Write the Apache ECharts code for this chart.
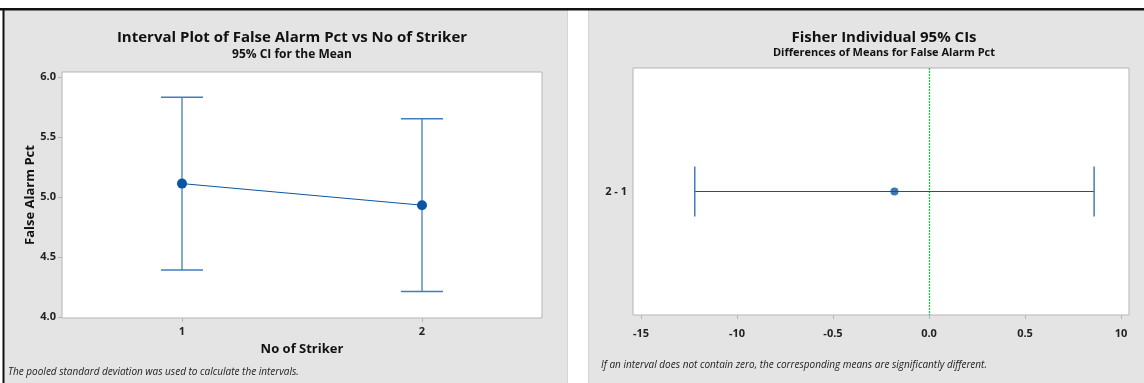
<!DOCTYPE html>
<html>
<head>
<meta charset="utf-8">
<script src="https://cdn.jsdelivr.net/npm/echarts@6/dist/echarts.min.js"></script>
<style>
  html, body { margin: 0; padding: 0; background: #fff; }
  #main { width: 1144px; height: 383px; }
</style>
</head>
<body>
<div id="main"></div>
<script>
// ---------- data ----------
var strikerLevels = [1, 2];
var meanPct = [5.11, 4.93];
var ciLow = [4.39, 4.21];
var ciHigh = [5.83, 5.65];

var diffNames = ['2 - 1'];
var diffMean = [-0.18];
var diffLow = [-1.22];
var diffHigh = [0.86];
var zeroRef = [0];

var leftYTicks = [4.0, 4.5, 5.0, 5.5, 6.0];
var rightXTicks = [-1.5, -1.0, -0.5, 0, 0.5, 1.0];
var rightXTickLabels = ['-15', '-10', '-0.5', '0.0', '0.5', '10'];

// ---------- style ----------
var blue = '#0b56a4';
var capBlue = '#3f7cc4';
var green = '#1fbf45';
var frameGray = '#b5b5b5';
var font = 'Open Sans';

var meanData = strikerLevels.map(function (x, i) { return [x, meanPct[i]]; });
var ciData = strikerLevels.map(function (x, i) { return [x, ciLow[i], ciHigh[i]]; });
var diffCiData = diffNames.map(function (n, i) { return [diffLow[i], diffHigh[i], i]; });
var diffMeanData = diffNames.map(function (n, i) { return [diffMean[i], i]; });

// 竖向误差棒
function renderVBar(params, api) {
  var top = api.coord([api.value(0), api.value(2)]);
  var bot = api.coord([api.value(0), api.value(1)]);
  var w = 21;
  var st = {stroke: blue, lineWidth: 1};
  var cap = {stroke: capBlue, lineWidth: 1.5};
  return {
    type: 'group',
    children: [
      {type: 'line', shape: {x1: top[0], y1: top[1], x2: bot[0], y2: bot[1]}, style: st},
      {type: 'line', shape: {x1: top[0] - w, y1: top[1], x2: top[0] + w, y2: top[1]}, style: cap},
      {type: 'line', shape: {x1: bot[0] - w, y1: bot[1], x2: bot[0] + w, y2: bot[1]}, style: cap}
    ]
  };
}

// 横向误差棒
function renderHBar(params, api) {
  var l = api.coord([api.value(0), api.value(2)]);
  var r = api.coord([api.value(1), api.value(2)]);
  var h = 25;
  var st = {stroke: blue, lineWidth: 1};
  var cap = {stroke: capBlue, lineWidth: 1.5};
  return {
    type: 'group',
    children: [
      {type: 'line', shape: {x1: l[0], y1: l[1], x2: r[0], y2: r[1]}, style: st},
      {type: 'line', shape: {x1: l[0], y1: l[1] - h, x2: l[0], y2: l[1] + h}, style: cap},
      {type: 'line', shape: {x1: r[0], y1: r[1] - h, x2: r[0], y2: r[1] + h}, style: cap}
    ]
  };
}

// 零参考线（绿色虚线）
function renderZero(params, api) {
  var cs = params.coordSys;
  var x = Math.round(api.coord([api.value(0), 0])[0]) + 0.5;
  return {
    type: 'line',
    shape: {x1: x, y1: cs.y, x2: x, y2: cs.y + cs.height},
    style: {stroke: green, lineWidth: 1.3, lineDash: [2, 1], opacity: 1}
  };
}

var tickLabelStyle = {color: '#222', fontSize: 11, fontWeight: 'bold', fontFamily: font};

var chart = echarts.init(document.getElementById('main'));
chart.setOption({
  backgroundColor: '#fff',
  animation: false,
  graphic: [
    {type: 'rect', shape: {x: 4, y: 10, width: 564, height: 373}, style: {fill: '#e4e4e4'}, z: -10},
    {type: 'rect', shape: {x: 588, y: 10, width: 556, height: 373}, style: {fill: '#e4e4e4'}, z: -10},
    {type: 'line', shape: {x1: 567.5, y1: 10, x2: 567.5, y2: 383}, style: {stroke: '#d4d4d4', lineWidth: 1}, z: -9},
    {type: 'line', shape: {x1: 588.5, y1: 10, x2: 588.5, y2: 383}, style: {stroke: '#d4d4d4', lineWidth: 1}, z: -9},
    {type: 'rect', shape: {x: 0, y: 8, width: 1144, height: 2.5}, style: {fill: '#111'}, z: -8},
    {type: 'rect', shape: {x: 2.5, y: 8, width: 2, height: 375}, style: {fill: '#111'}, z: -8},
    {type: 'text', left: 8, top: 367, style: {text: 'The pooled standard deviation was used to calculate the intervals.', font: 'italic 10px ' + font, fill: '#222'}},
    {type: 'text', left: 601, top: 360, style: {text: 'If an interval does not contain zero, the corresponding means are significantly different.', font: 'italic 10px ' + font, fill: '#222'}}
  ],
  title: [
    {
      text: 'Interval Plot of False Alarm Pct vs No of Striker',
      subtext: '95% CI for the Mean',
      left: 287, top: 25, textAlign: 'center', itemGap: 4,
      textStyle: {fontSize: 15, fontWeight: 'bold', color: '#111', fontFamily: font},
      subtextStyle: {fontSize: 12, fontWeight: 'bold', color: '#111', fontFamily: font}
    },
    {
      text: 'Fisher Individual 95% CIs',
      subtext: 'Differences of Means for False Alarm Pct',
      left: 879, top: 25, textAlign: 'center', itemGap: 2,
      textStyle: {fontSize: 15, fontWeight: 'bold', color: '#111', fontFamily: font},
      subtextStyle: {fontSize: 11, fontWeight: 'bold', color: '#111', fontFamily: font}
    }
  ],
  grid: [
    {left: 62, top: 72, width: 480, height: 246, show: true, backgroundColor: '#fff', borderColor: frameGray, borderWidth: 1},
    {left: 633, top: 68, width: 496, height: 247, show: true, backgroundColor: '#fff', borderColor: frameGray, borderWidth: 1}
  ],
  xAxis: [
    {
      gridIndex: 0, type: 'value', min: 0.5, max: 2.5,
      name: 'No of Striker', nameLocation: 'middle', nameGap: 25,
      nameTextStyle: {fontSize: 13, fontWeight: 'bold', color: '#111', fontFamily: font},
      axisLine: {show: false}, splitLine: {show: false},
      axisTick: {show: true, length: 4, lineStyle: {color: frameGray}, customValues: strikerLevels},
      axisLabel: Object.assign({margin: 8, customValues: strikerLevels}, tickLabelStyle)
    },
    {
      gridIndex: 1, type: 'value', min: -1.5417, max: 1.0417,
      axisLine: {show: false}, splitLine: {show: false},
      axisTick: {show: true, length: 4, lineStyle: {color: frameGray}, customValues: rightXTicks},
      axisLabel: Object.assign({
        margin: 13, customValues: rightXTicks,
        formatter: function (v) {
          var i = rightXTicks.findIndex(function (t) { return Math.abs(t - v) < 1e-6; });
          return i >= 0 ? rightXTickLabels[i] : '';
        }
      }, tickLabelStyle)
    }
  ],
  yAxis: [
    {
      gridIndex: 0, type: 'value', min: 3.99, max: 6.04,
      name: 'False Alarm Pct', nameLocation: 'middle', nameGap: 25, nameRotate: 90,
      nameTextStyle: {fontSize: 13, fontWeight: 'bold', color: '#111', fontFamily: font},
      axisLine: {show: false}, splitLine: {show: false},
      axisTick: {show: true, length: 4, lineStyle: {color: frameGray}, customValues: leftYTicks},
      axisLabel: Object.assign({
        margin: 6, customValues: leftYTicks,
        formatter: function (v) { return v.toFixed(1); }
      }, tickLabelStyle)
    },
    {
      gridIndex: 1, type: 'category', data: diffNames,
      axisLine: {show: false}, splitLine: {show: false},
      axisTick: {show: true, length: 4, alignWithLabel: true, lineStyle: {color: frameGray}},
      axisLabel: Object.assign({margin: 6}, tickLabelStyle)
    }
  ],
  series: [
    {
      type: 'custom', xAxisIndex: 0, yAxisIndex: 0,
      renderItem: renderVBar, data: ciData, z: 2
    },
    {
      type: 'line', xAxisIndex: 0, yAxisIndex: 0, data: meanData,
      symbol: 'circle', symbolSize: 10,
      itemStyle: {color: blue}, lineStyle: {color: blue, width: 1}, z: 3
    },
    {
      type: 'custom', xAxisIndex: 1, yAxisIndex: 1,
      renderItem: renderZero, data: zeroRef.map(function (v) { return [v]; }), z: 1
    },
    {
      type: 'custom', xAxisIndex: 1, yAxisIndex: 1,
      renderItem: renderHBar, data: diffCiData, z: 2
    },
    {
      type: 'scatter', xAxisIndex: 1, yAxisIndex: 1, data: diffMeanData,
      symbol: 'circle', symbolSize: 8, itemStyle: {color: blue}, z: 4
    }
  ]
});
</script>
</body>
</html>
